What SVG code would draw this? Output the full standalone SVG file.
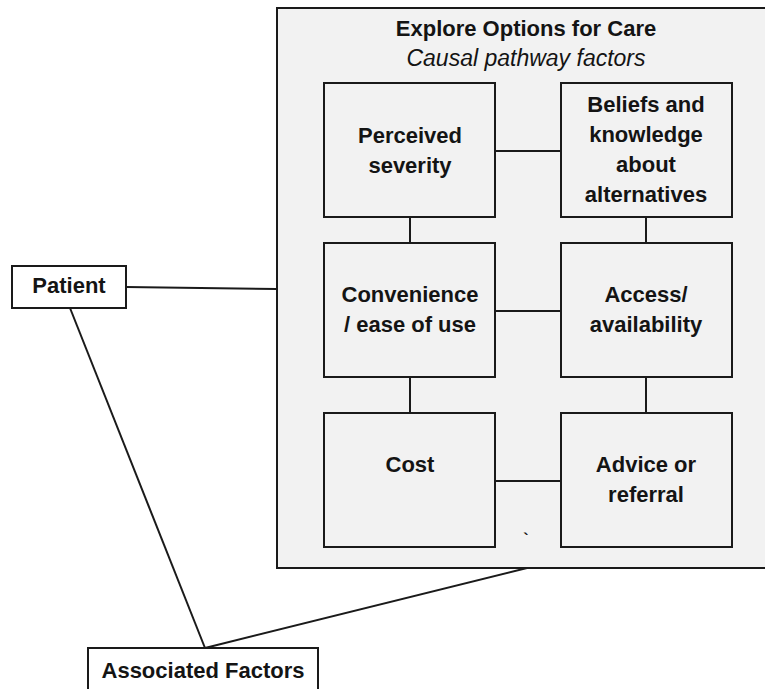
<svg xmlns="http://www.w3.org/2000/svg" width="765" height="689" viewBox="0 0 765 689">
  <style>
    .panel { fill: #f2f2f2; stroke: #1a1a1a; stroke-width: 2; }
    .box { fill: #f2f2f2; stroke: #1a1a1a; stroke-width: 2; }
    .plain { fill: #ffffff; stroke: #1a1a1a; stroke-width: 2; }
    .link { stroke: #1a1a1a; stroke-width: 2; fill: none; }
    .lbl { font-family: "Liberation Sans", Arial, sans-serif; font-size: 22px; font-weight: bold; fill: #141414; text-anchor: middle; }
    .sub { font-family: "Liberation Sans", Arial, sans-serif; font-size: 23px; font-style: italic; fill: #141414; text-anchor: middle; }
  </style>
  <rect width="765" height="689" fill="#ffffff"/>

  <!-- container for the causal pathway factors -->
  <g id="explore-options">
    <rect class="panel" x="277" y="8" width="500" height="560"/>
    <text class="lbl" x="526" y="36">Explore Options for Care</text>
    <text class="sub" x="526" y="66">Causal pathway factors</text>
    <text class="lbl" x="526" y="545" style="font-size:16px">`</text>
  </g>

  <!-- connectors -->
  <g id="connectors">
    <line class="link" x1="495" y1="151" x2="561" y2="151"/>
    <line class="link" x1="495" y1="311" x2="561" y2="311"/>
    <line class="link" x1="495" y1="481" x2="561" y2="481"/>
    <line class="link" x1="410" y1="217" x2="410" y2="243"/>
    <line class="link" x1="410" y1="377" x2="410" y2="413"/>
    <line class="link" x1="646" y1="217" x2="646" y2="243"/>
    <line class="link" x1="646" y1="377" x2="646" y2="413"/>
    <line class="link" x1="126" y1="287" x2="277" y2="289"/>
    <line class="link" x1="70" y1="308" x2="205" y2="648"/>
    <line class="link" x1="205" y1="648" x2="527" y2="568"/>
  </g>

  <g id="perceived-severity">
    <rect class="box" x="324" y="83" width="171" height="134"/>
    <text class="lbl" x="410" y="143">Perceived</text>
    <text class="lbl" x="410" y="173">severity</text>
  </g>

  <g id="beliefs-knowledge">
    <rect class="box" x="561" y="83" width="171" height="134"/>
    <text class="lbl" x="646" y="112">Beliefs and</text>
    <text class="lbl" x="646" y="142">knowledge</text>
    <text class="lbl" x="646" y="172">about</text>
    <text class="lbl" x="646" y="202">alternatives</text>
  </g>

  <g id="convenience">
    <rect class="box" x="324" y="243" width="171" height="134"/>
    <text class="lbl" x="410" y="302">Convenience</text>
    <text class="lbl" x="410" y="332">/ ease of use</text>
  </g>

  <g id="access">
    <rect class="box" x="561" y="243" width="171" height="134"/>
    <text class="lbl" x="646" y="302">Access/</text>
    <text class="lbl" x="646" y="332">availability</text>
  </g>

  <g id="cost">
    <rect class="box" x="324" y="413" width="171" height="134"/>
    <text class="lbl" x="410" y="472">Cost</text>
  </g>

  <g id="advice-referral">
    <rect class="box" x="561" y="413" width="171" height="134"/>
    <text class="lbl" x="646" y="472">Advice or</text>
    <text class="lbl" x="646" y="502">referral</text>
  </g>

  <g id="patient">
    <rect class="plain" x="12" y="266" width="114" height="42"/>
    <text class="lbl" x="69" y="293">Patient</text>
  </g>

  <g id="associated-factors">
    <rect class="plain" x="88" y="648" width="230" height="50"/>
    <text class="lbl" x="203" y="678">Associated Factors</text>
  </g>
</svg>
